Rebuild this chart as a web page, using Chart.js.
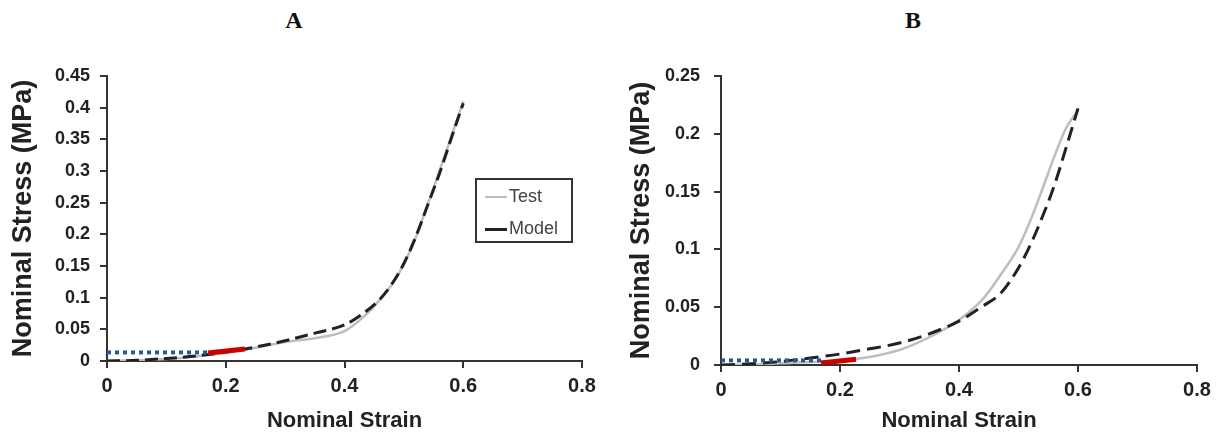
<!DOCTYPE html>
<html>
<head>
<meta charset="utf-8">
<script src="https://cdn.jsdelivr.net/npm/chart.js@4/dist/chart.umd.min.js"></script>
<style>
  body { margin:0; background:#fff; width:1219px; height:440px; overflow:hidden; position:relative; font-family:"Liberation Sans", Arial, sans-serif; }
  canvas { position:absolute; top:0; }
  #cA { left:0; }
  #cB { left:610px; }
  .panel { position:absolute; top:7px; font-family:"Liberation Serif","Times New Roman",serif; font-weight:bold; font-size:24px; color:#111; transform:translateX(-50%); }
  #legA { position:absolute; left:475px; top:178px; width:98px; height:65px; box-sizing:border-box; border:2px solid #333; font-size:18px; color:#444; }
  #legA div { position:absolute; left:8px; height:22px; line-height:22px; }
  #legA span.ln { display:inline-block; width:22px; vertical-align:middle; margin-right:2px; }
</style>
</head>
<body>
<div class="panel" style="left:294px">A</div>
<div class="panel" style="left:913px">B</div>
<canvas id="cA" width="610" height="440"></canvas>
<canvas id="cB" width="609" height="440"></canvas>
<div id="legA">
  <div style="top:5px"><span class="ln" style="border-top:2px solid #bdbdbd"></span>Test</div>
  <div style="top:37px"><span class="ln" style="border-top:3px solid #222"></span>Model</div>
</div>
<script>
  // Panel A
  const strainA = [0, 0.05, 0.1, 0.15, 0.2, 0.25, 0.3, 0.35, 0.4, 0.43, 0.46, 0.48, 0.5, 0.52, 0.54, 0.56, 0.58, 0.6];
  const modelA  = [0, 0.001, 0.004, 0.008, 0.014, 0.022, 0.032, 0.044, 0.057, 0.074, 0.098, 0.122, 0.154, 0.196, 0.246, 0.296, 0.352, 0.407];
  const testA   = [0, 0.001, 0.003, 0.007, 0.013, 0.021, 0.030, 0.036, 0.047, 0.068, 0.097, 0.121, 0.153, 0.195, 0.247, 0.300, 0.355, 0.410];
  const refStrainA = [0, 0.17];
  const refStressA = [0.0135, 0.0135];
  const redStrainA = [0.17, 0.232];
  const redStressA = [0.0125, 0.019];

  // Panel B
  const strainB = [0, 0.05, 0.1, 0.15, 0.2, 0.25, 0.3, 0.35, 0.4, 0.44, 0.47, 0.5, 0.52, 0.54, 0.56, 0.58, 0.6];
  const modelB  = [0, 0.001, 0.003, 0.006, 0.0095, 0.014, 0.019, 0.027, 0.038, 0.051, 0.062, 0.084, 0.104, 0.128, 0.155, 0.188, 0.222];
  const testB   = [0, 0.0005, 0.0015, 0.0025, 0.004, 0.007, 0.013, 0.024, 0.039, 0.057, 0.078, 0.102, 0.125, 0.152, 0.180, 0.205, 0.220];
  const refStrainB = [0, 0.17];
  const refStressB = [0.004, 0.004];
  const redStrainB = [0.168, 0.227];
  const redStressB = [0.0017, 0.005];

  const xTicks = [0, 0.2, 0.4, 0.6, 0.8];
  const yTicksA = [0, 0.05, 0.1, 0.15, 0.2, 0.25, 0.3, 0.35, 0.4, 0.45];
  const yTicksB = [0, 0.05, 0.1, 0.15, 0.2, 0.25];

  const pts = (xs, ys) => xs.map((x, i) => ({ x: x, y: ys[i] }));
  const axisCol = '#333';
  const font = (size, weight) => ({ family: '"Liberation Sans", Arial, sans-serif', size: size, weight: weight });

  // first dataset is painted on top
  function makeChart(id, d) {
    return new Chart(document.getElementById(id), {
      type: 'line',
      data: {
        datasets: [
          { label: 'red', data: pts(d.redX, d.redY), borderColor: '#cc0000', borderWidth: 5 },
          { label: 'ref', data: pts(d.refX, d.refY), borderColor: '#2a5a92', borderWidth: 4, borderDash: [4, 4] },
          { label: 'Model', data: pts(d.strain, d.model), borderColor: '#222', borderWidth: 3, borderDash: d.dash, cubicInterpolationMode: 'monotone' },
          { label: 'Test', data: pts(d.strain, d.test), borderColor: '#bdbdbd', borderWidth: 2.5, cubicInterpolationMode: 'monotone' }
        ]
      },
      options: {
        responsive: false,
        animation: false,
        elements: { point: { radius: 0 } },
        layout: { padding: { top: 76, right: d.padRight, bottom: 0, left: 0 } },
        plugins: { legend: { display: false }, tooltip: { enabled: false } },
        scales: {
          x: {
            type: 'linear', min: 0, max: 0.8,
            afterFit: s => { s.height = d.xHeight; },
            afterBuildTicks: s => { s.ticks = xTicks.map(v => ({ value: v })); },
            border: { color: axisCol, width: 2 },
            grid: { drawOnChartArea: false, color: axisCol, lineWidth: 2, tickLength: 7 },
            ticks: { color: '#222', font: font(20, 'bold'), padding: 6, maxRotation: 0, callback: v => String(v) },
            title: { display: true, text: 'Nominal Strain', color: '#222', font: font(22, 'bold'), padding: { top: 0, bottom: 6 } }
          },
          y: {
            min: 0, max: d.yMax,
            afterFit: s => { s.width = d.yWidth; },
            afterBuildTicks: s => { s.ticks = d.yTicks.map(v => ({ value: v })); },
            border: { color: axisCol, width: 2 },
            grid: { drawOnChartArea: false, color: axisCol, lineWidth: 2, tickLength: 7 },
            ticks: { color: '#222', font: font(18, 'bold'), padding: d.yPad, callback: v => String(v) },
            title: { display: true, text: 'Nominal Stress (MPa)', color: '#222', font: font(27, 'bold'), padding: { top: d.yTitlePad, bottom: 0 } }
          }
        }
      }
    });
  }

  makeChart('cA', {
    strain: strainA, test: testA, model: modelA,
    refX: refStrainA, refY: refStressA, redX: redStrainA, redY: redStressA,
    dash: [13, 6], yMax: 0.45, yTicks: yTicksA,
    yWidth: 107, xHeight: 79, padRight: 28, yPad: 10, yTitlePad: 7
  });

  makeChart('cB', {
    strain: strainB, test: testB, model: modelB,
    refX: refStrainB, refY: refStressB, redX: redStrainB, redY: redStressB,
    dash: [14, 7], yMax: 0.25, yTicks: yTicksB,
    yWidth: 111, xHeight: 75, padRight: 22, yPad: 14, yTitlePad: 15
  });
</script>
</body>
</html>
